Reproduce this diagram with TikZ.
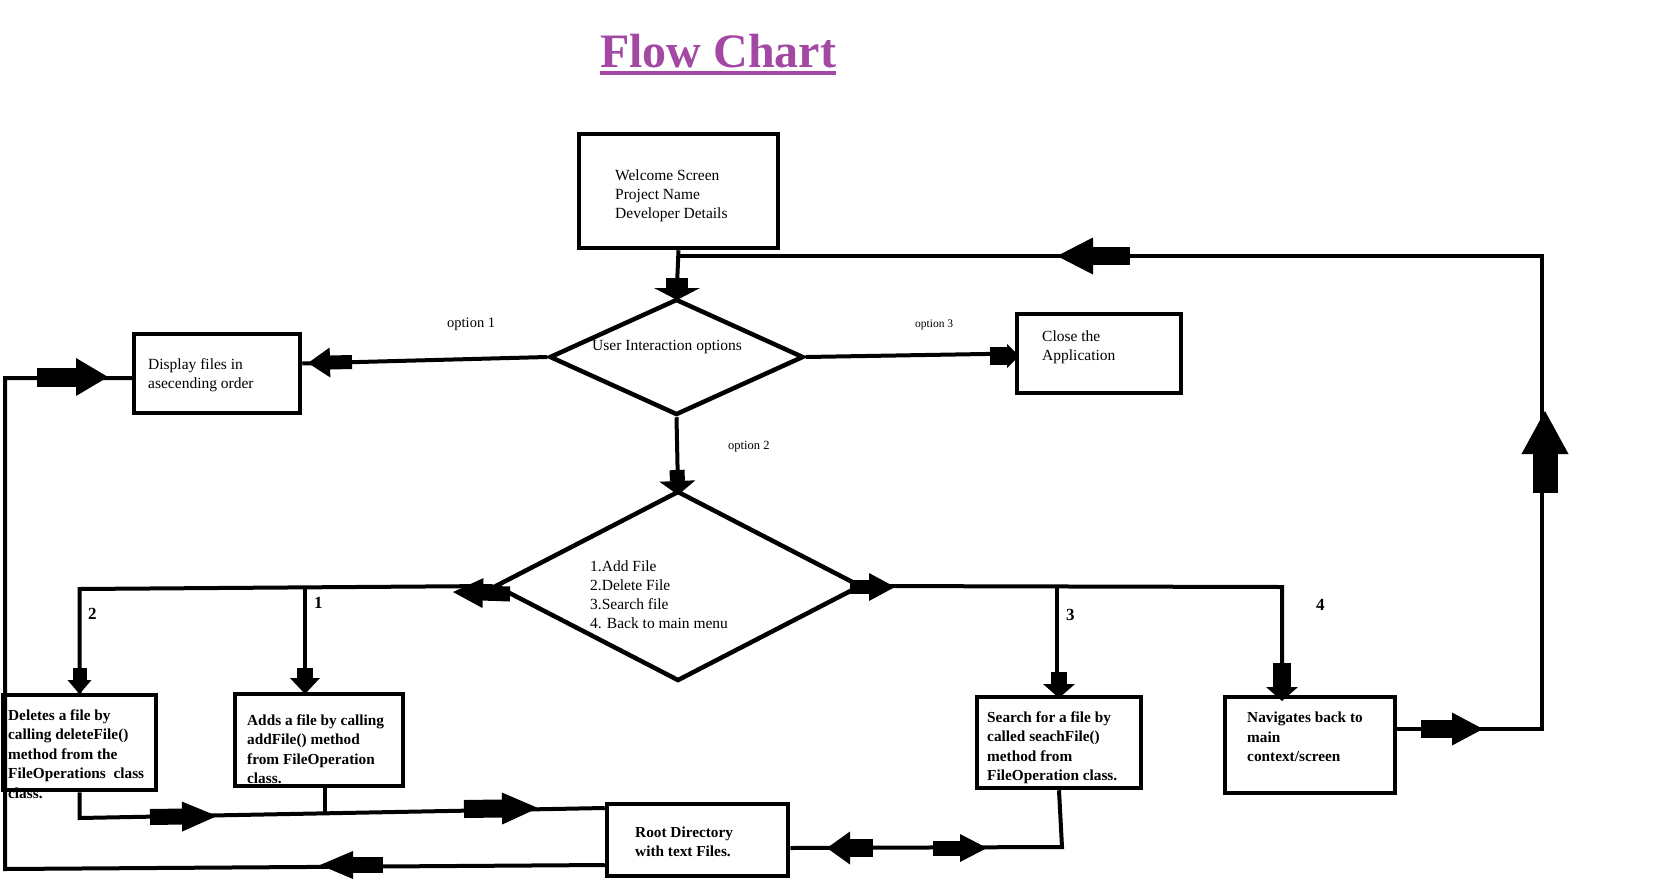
\documentclass[tikz,border=0pt]{standalone}
\usepackage{fontspec}
\setmainfont{Liberation Serif}
\usetikzlibrary{arrows.meta,shapes.geometric}
\definecolor{titlecol}{RGB}{163,73,164}
\begin{document}
\begin{tikzpicture}[x=1pt,y=-1pt,
  box/.style={draw, line width=4.5pt, rectangle, inner sep=0pt},
  dia/.style={draw, line width=4.5pt, diamond, inner sep=0pt, line join=miter},
  txt/.style={anchor=west, align=left, inner sep=0pt, font=\fontsize{15.5}{19}\selectfont},
  btxt/.style={anchor=west, align=left, inner sep=0pt, font=\fontsize{15.3}{19.5}\selectfont\bfseries},
  numlbl/.style={anchor=west, inner sep=0pt, font=\fontsize{17}{20}\selectfont\bfseries},
  optlbl/.style={anchor=west, inner sep=0pt},
  conn/.style={line width=4pt, line join=miter},
  blk/.style n args={3}{line width=#1, line cap=butt,
     -{Triangle[length=#2, width=#3, line width=0pt]}}
]
\path[use as bounding box, fill=white] (0,0) rectangle (1674,895);

% title
\node[anchor=base west, inner sep=0pt, text=titlecol,
      font=\fontsize{48}{54}\selectfont\bfseries] (title) at (600,67) {Flow Chart};
\draw[titlecol, line width=4.5pt] ([yshift=-6pt]title.base west) -- ([yshift=-6pt]title.base east);

% texts
\node[txt] (welcomeT) at (615,196) {Welcome Screen\\Project Name\\Developer Details};
\node[txt] (displayT) at (148,375) {Display files in\\asecending order};
\node[txt] (closeT) at (1042,347) {Close the\\Application};
\node[txt] (d1T) at (592,347) {User Interaction options};
\node[txt] (d2T) at (590,594.5) {1.Add File\\2.Delete File\\3.Search file\\4. Back to main menu};
\node[btxt] (deleteT) at (8,754) {Deletes a file by\\calling deleteFile()\\method from the\\FileOperations\ \ class\\class.};
\node[btxt] (addT) at (247,749) {Adds a file by calling\\addFile() method\\from FileOperation\\class.};
\node[btxt] (searchT) at (987,747.5) {Search for a file by\\called seachFile()\\method from\\FileOperation class.};
\node[btxt] (navT) at (1247,737) {Navigates back to\\main\\context/screen};
\node[btxt] (rootT) at (635,842) {Root Directory\\with text Files.};

\node[optlbl, font=\fontsize{14.5}{17}\selectfont] (opt1) at (447,324) {option 1};
\node[optlbl, font=\fontsize{12.5}{15}\selectfont] (opt2) at (728,447) {option 2};
\node[optlbl, font=\fontsize{11.5}{14}\selectfont] (opt3) at (915,325) {option 3};
\node[numlbl] (n1) at (314,603) {1};
\node[numlbl] (n2) at (88,614) {2};
\node[numlbl] (n3) at (1066,615) {3};
\node[numlbl] (n4) at (1316,605) {4};

% boxes
\node[box, minimum width=199pt, minimum height=114pt] (welcome) at (678.5,191) {};
\node[box, minimum width=166pt, minimum height=79pt] (display) at (217,373.5) {};
\node[box, minimum width=164pt, minimum height=79pt] (close) at (1099,353.5) {};
\node[box, minimum width=153pt, minimum height=95pt] (delete) at (79.5,742.5) {};
\node[box, minimum width=168pt, minimum height=92pt] (add) at (319,740) {};
\node[box, minimum width=164pt, minimum height=91pt] (search) at (1059,742.5) {};
\node[box, minimum width=170pt, minimum height=96pt] (nav) at (1310,745) {};
\node[box, minimum width=181pt, minimum height=72pt] (root) at (697.5,840) {};

% diamonds
\node[dia, minimum width=254pt, minimum height=116pt] (d1) at (676.5,357) {};
\node[dia, minimum width=366pt, minimum height=190pt] (d2) at (678,586) {};

% coordinates
\coordinate (c1) at (305,589);
\coordinate (c2) at (79.5,589);
\coordinate (c3) at (1057,587);
\coordinate (c4) at (1282,587);
\coordinate (c5) at (1542,729);
\coordinate (c6) at (1542,256);
\coordinate (c7) at (677,256);
\coordinate (c8) at (79.5,818);
\coordinate (c9) at (325,812);
\coordinate (c10) at (5,869);
\coordinate (c11) at (5,378);
\coordinate (c12) at (1062,847);

% connectors
\draw[conn] (welcome.south) -- (d1.north);
\draw[conn] (d1.west) -- ([yshift=10pt]display.east);
\draw[conn] (d1.east) -- (close.west);
\draw[conn] (d1.south) -- (d2.north);
\draw[conn] (d2.west) -- (c2) -- (delete.north);
\draw[conn] (c1) -- (c1 |- add.north);
\draw[conn] (d2.east) -- (c4) -- (c4 |- nav.north);
\draw[conn] (c3) -- (c3 |- search.north);
\draw[conn, line width=3.5pt] (nav.east |- c5) -- (c5) -- (c6) -- (c7);
\draw[conn] (delete.south) -- (c8) -- ([yshift=32pt]root.west);
\draw[conn] (add.south -| c9) -- (c9);
\draw[conn] ([yshift=-25pt]root.west) -- (c10) -- (c11) -- (display.west |- c11);
\draw[conn] (search.south) -- (c12) -- ([yshift=-8pt]root.east);

% block arrows
\draw[blk={22pt}{12pt}{46pt}] (677,278) -- (677,300);
\draw[blk={14pt}{22pt}{30pt}] (352,362) -- (308,363);
\draw[blk={19pt}{32pt}{38pt}] (37,377) -- (108,377);
\draw[blk={18pt}{12pt}{24pt}] (990,356) -- (1019,356);
\draw[blk={15pt}{14pt}{36pt}] (677,470) -- (678,495);
\draw[blk={15pt}{30pt}{30pt}] (510,594) -- (453,592);
\draw[blk={14pt}{26pt}{28pt}] (850,587) -- (895,587);
\draw[blk={14pt}{14pt}{24pt}] (79.5,668) -- (79.5,694);
\draw[blk={16pt}{16pt}{30pt}] (305,668) -- (305,694);
\draw[blk={16pt}{35pt}{30pt}] (150,817) -- (217,816);
\draw[blk={18pt}{36pt}{32pt}] (464,809) -- (538,808);
\draw[blk={16pt}{33pt}{28pt}] (383,865) -- (320,865);
\draw[blk={18pt}{23pt}{33pt}] (873,848) -- (827,848);
\draw[blk={15pt}{27pt}{28pt}] (933,848) -- (987,848);
\draw[blk={16pt}{14pt}{32pt}] (1059,672) -- (1059,698);
\draw[blk={18pt}{14pt}{32pt}] (1282,663) -- (1282,701);
\draw[blk={18pt}{31pt}{33pt}] (1421,729) -- (1483,729);
\draw[blk={25pt}{43pt}{47pt}] (1545,493) -- (1545,411);
\draw[blk={18pt}{36pt}{37pt}] (1130,256) -- (1057,256);
\end{tikzpicture}
\end{document}
